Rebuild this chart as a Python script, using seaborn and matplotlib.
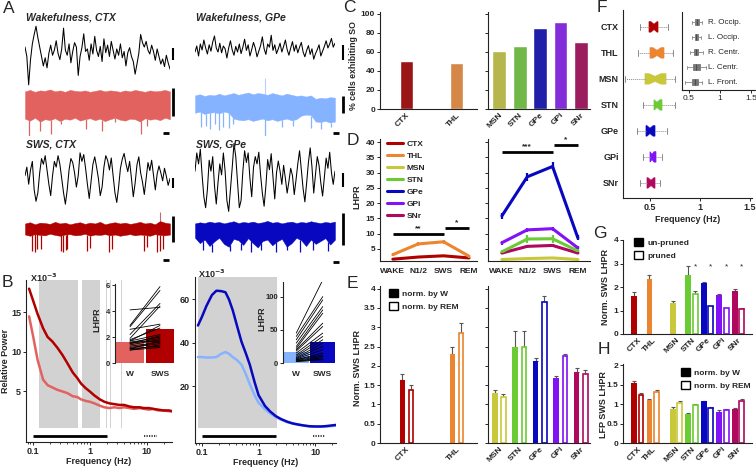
import numpy as np
import pandas as pd
import matplotlib
matplotlib.use('Agg')
import matplotlib.pyplot as plt
import seaborn as sns
from matplotlib.lines import Line2D
from matplotlib.patches import Patch

sns.set_style('ticks')
plt.rcParams['font.family'] = ['Liberation Sans', 'DejaVu Sans']
plt.rcParams['font.weight'] = 'bold'
plt.rcParams['axes.labelweight'] = 'bold'
plt.rcParams['font.size'] = 6
plt.rcParams['axes.linewidth'] = 0.8
plt.rcParams['axes.edgecolor'] = '#222222'
for k in ['xtick', 'ytick']:
    plt.rcParams[k + '.major.size'] = 2
    plt.rcParams[k + '.minor.size'] = 1.2
    plt.rcParams[k + '.major.width'] = 0.7
    plt.rcParams[k + '.labelsize'] = 6
    plt.rcParams[k + '.major.pad'] = 1.5

# ---------------- data ----------------
regions = ['CTX', 'THL', 'MSN', 'STN', 'GPe', 'GPi', 'SNr']
region_colors = {'CTX': '#b00000', 'THL': '#eb8530', 'MSN': '#c8c83a', 'STN': '#6acb35',
                 'GPe': '#0808c0', 'GPi': '#8012f5', 'SNr': '#b0085e'}
ctx_light = '#e2625f'
gpe_light = '#86b3ff'

# A - example traces (LFP in arbitrary units, unit band envelopes 0..1)
wake_ctx_lfp = [6.5, 5.0, 0.5, 4.5, 7.0, 8.5, 9.8, 8.0, 6.5, 5.0, 3.5, 4.8, 3.2, 5.5, 6.8, 5.2, 6.0, 7.5, 5.5, 4.5,
                6.2, 9.5, 6.0, 5.2, 7.0, 4.0, 5.8, 7.2, 6.5, 2.0, 5.0, 6.4, 8.6, 5.8, 6.2, 4.4, 7.0, 5.4, 8.2, 6.0,
                5.0, 6.6, 4.2, 7.8, 5.6, 6.8, 5.0, 7.4, 6.0, 4.6, 6.2, 5.2, 7.0, 4.8, 5.8, 3.5, 5.6, 6.4, 5.0, 4.2,
                2.2, 3.8, 5.5, 8.5, 7.2, 6.5, 7.4, 6.0, 5.4, 6.8, 5.8, 4.4, 6.2, 5.0, 3.8, 4.6, 3.4, 5.2, 4.0, 3.0]
wake_gpe_lfp = [5.0, 6.5, 4.0, 7.0, 5.5, 8.0, 6.0, 4.5, 6.8, 5.2, 7.5, 9.0, 6.0, 5.0, 7.2, 4.8, 6.5, 5.8, 3.5, 6.0,
                7.8, 5.5, 4.2, 6.4, 5.0, 7.0, 4.6, 6.2, 8.2, 5.4, 6.8, 4.0, 5.6, 7.4, 6.0, 3.8, 5.2, 6.6, 8.8, 5.8,
                4.4, 7.0, 6.2, 9.2, 5.4, 6.8, 4.6, 5.8, 7.2, 5.0, 6.4, 8.0, 5.6, 4.2, 6.0, 7.6, 5.2, 6.8, 4.8, 6.2,
                7.4, 5.0, 3.8, 5.4, 6.6, 4.4, 5.8, 3.2, 4.6, 5.6, 6.8, 4.0, 5.2, 6.4, 7.8, 6.0, 7.0, 8.4, 6.2, 7.2]
sws_ctx_lfp = [5.5, 7.0, 4.0, 6.5, 8.0, 3.0, 1.0, 2.5, 6.0, 8.5, 7.5, 9.0, 6.5, 4.0, 2.0, 5.5, 8.0, 7.0, 9.0, 7.5,
               5.0, 2.5, 0.5, 3.0, 6.5, 8.5, 7.8, 6.0, 3.5, 5.5, 9.5, 8.0, 9.2, 6.8, 4.0, 1.5, 4.5, 7.5, 8.8, 7.0,
               5.0, 2.0, 3.5, 7.0, 9.0, 8.2, 6.5, 8.6, 5.5, 2.5, 0.8, 3.5, 6.8, 8.4, 9.4, 7.6, 6.2, 8.0, 5.0, 1.8,
               4.2, 7.4, 8.8, 6.0, 4.4, 2.2, 5.0, 7.8, 6.4, 8.2, 5.6, 3.0, 5.8, 7.2, 6.0, 4.6, 6.8, 5.4, 3.8, 5.0]
sws_gpe_lfp = [6.0, 8.5, 7.0, 9.0, 5.5, 2.5, 1.0, 3.5, 7.5, 6.0, 8.0, 4.0, 1.5, 4.5, 7.0, 5.5, 8.5, 6.0, 2.0, 0.5,
               3.5, 6.5, 9.8, 8.0, 4.5, 1.0, 2.0, 6.0, 8.8, 7.2, 8.5, 5.0, 2.5, 6.5, 8.0, 7.0, 8.6, 5.5, 3.0, 1.2,
               4.0, 7.6, 6.2, 8.4, 5.2, 2.2, 5.8, 7.4, 6.0, 4.2, 6.8, 5.0, 3.0, 4.6, 6.4, 5.4, 2.8, 4.8, 7.0, 8.8,
               6.2, 3.6, 1.8, 4.4, 7.2, 9.2, 6.6, 3.0, 5.6, 8.0, 6.8, 4.4, 2.6, 5.2, 7.8, 6.4, 8.6, 5.8, 4.2, 6.0]

wake_ctx_top = [0.93, 0.96, 0.92, 0.95, 0.94, 0.97, 0.93, 0.95, 0.92, 0.96, 0.94, 0.93, 0.95, 0.92, 0.94,
                0.96, 0.93, 0.95, 0.94, 0.92, 0.95, 0.93, 0.96, 0.94, 0.92, 0.95, 0.93, 0.94, 0.96, 0.93]
wake_ctx_bot = [0.36, 0.32, 0.38, 0.30, 0.35, 0.33, 0.37, 0.31, 0.36, 0.34, 0.38, 0.32, 0.35, 0.37, 0.33,
                0.36, 0.31, 0.35, 0.38, 0.34, 0.32, 0.36, 0.35, 0.30, 0.37, 0.34, 0.36, 0.33, 0.38, 0.35]
wake_ctx_spike_at = [0.03, 0.10, 0.18, 0.25, 0.42, 0.53, 0.62, 0.80, 0.84]
wake_ctx_spike_to = [0.0, 0.10, 0.05, 0.25, 0.15, 0.10, 0.30, 0.05, 0.20]

wake_gpe_top = [0.70, 0.72, 0.69, 0.71, 0.70, 0.73, 0.70, 0.72, 0.74, 0.71, 0.73, 0.75, 0.72, 0.74, 0.73,
                0.71, 0.74, 0.72, 0.70, 0.73, 0.71, 0.69, 0.70, 0.68, 0.70, 0.64, 0.66, 0.65, 0.67, 0.66]
wake_gpe_bot = [0.40, 0.42, 0.38, 0.40, 0.41, 0.39, 0.42, 0.40, 0.30, 0.28, 0.27, 0.29, 0.26, 0.28, 0.30,
                0.27, 0.29, 0.26, 0.28, 0.30, 0.27, 0.29, 0.35, 0.37, 0.36, 0.25, 0.24, 0.26, 0.23, 0.25]
wake_gpe_spike_at = [0.04, 0.08, 0.11, 0.14, 0.17, 0.20, 0.24, 0.27, 0.50, 0.62, 0.70, 0.83, 0.90, 0.97]
wake_gpe_spike_to = [0.15, 0.18, 0.12, 0.20, 0.10, 0.16, 0.14, 0.20, 0.0, 0.15, 0.18, 0.14, 0.12, 0.16]
wake_gpe_up_at = [0.50]
wake_gpe_up_to = [1.0]

sws_ctx_top = [0.72, 0.75, 0.70, 0.74, 0.73, 0.71, 0.76, 0.72, 0.74, 0.70, 0.73, 0.75, 0.71, 0.74, 0.72,
               0.76, 0.70, 0.73, 0.75, 0.72, 0.74, 0.71, 0.73, 0.76, 0.72, 0.74, 0.70, 0.78, 0.74, 0.72]
sws_ctx_bot = [0.45, 0.42, 0.46, 0.44, 0.43, 0.47, 0.44, 0.42, 0.45, 0.46, 0.43, 0.44, 0.47, 0.42, 0.45,
               0.44, 0.46, 0.43, 0.45, 0.42, 0.44, 0.46, 0.43, 0.45, 0.44, 0.42, 0.46, 0.44, 0.43, 0.45]
sws_ctx_spike_at = [0.05, 0.07, 0.08, 0.11, 0.25, 0.26, 0.28, 0.29, 0.43, 0.45, 0.58, 0.60, 0.82, 0.84,
                    0.91, 0.93, 0.95]
sws_ctx_spike_to = [0.05, 0.02, 0.10, 0.10, 0.05, 0.02, 0.08, 0.10, 0.05, 0.12, 0.02, 0.10, 0.05, 0.15,
                    0.02, 0.05, 0.10]
sws_ctx_up_at = [0.93]
sws_ctx_up_to = [1.0]

sws_gpe_top = [0.85, 0.88, 0.86, 0.90, 0.87, 0.89, 0.85, 0.88, 0.91, 0.86, 0.89, 0.87, 0.90, 0.86, 0.88,
               0.92, 0.87, 0.89, 0.85, 0.88, 0.90, 0.86, 0.89, 0.87, 0.91, 0.88, 0.86, 0.89, 0.87, 0.90]
sws_gpe_bot = [0.45, 0.30, 0.40, 0.22, 0.35, 0.45, 0.28, 0.20, 0.42, 0.38, 0.25, 0.44, 0.30, 0.18, 0.36,
               0.40, 0.24, 0.35, 0.42, 0.20, 0.30, 0.45, 0.38, 0.22, 0.40, 0.28, 0.36, 0.44, 0.26, 0.40]
sws_gpe_spike_at = [0.06, 0.12, 0.25, 0.33, 0.40, 0.47, 0.58, 0.66, 0.75, 0.84, 0.95]
sws_gpe_spike_to = [0.10, 0.05, 0.08, 0.12, 0.05, 0.10, 0.06, 0.10, 0.05, 0.12, 0.08]

# B - power spectra (x1e-3) and LHPR insets
b_freq_ctx = [0.085, 0.1, 0.12, 0.15, 0.18, 0.22, 0.27, 0.33, 0.4, 0.5, 0.6, 0.7, 0.85, 1.0, 1.2, 1.5,
              1.8, 2.2, 2.7, 3.3, 4, 5, 6, 7.5, 9, 11, 13, 16, 20, 25, 28]
ctx_wake_power = [14.5, 12.0, 9.0, 6.5, 5.8, 5.5, 5.2, 5.0, 4.8, 4.4, 4.3, 4.0, 3.8, 3.7, 3.5, 3.2,
                  3.0, 2.9, 3.0, 2.9, 3.0, 2.9, 2.8, 2.9, 2.8, 2.7, 2.8, 2.6, 2.6, 2.5, 2.5]
ctx_sws_power = [18.0, 16.5, 14.8, 13.0, 11.9, 11.3, 10.5, 9.6, 8.6, 7.4, 6.7, 6.0, 5.4, 5.0, 4.5, 4.0,
                 3.7, 3.5, 3.4, 3.3, 3.3, 3.1, 3.0, 3.0, 2.9, 2.9, 2.8, 2.7, 2.6, 2.6, 2.5]
ctx_band_lo = [0.128, 0.74, 1.93, 2.28, 3.6]
ctx_band_hi = [0.626, 1.53, 1.99, 2.34, 3.7]
ctx_sig_span = [0.1, 1.97]
ctx_dot_span = [8.9, 15.0]

b_freq_gpe = [0.085, 0.1, 0.12, 0.15, 0.18, 0.22, 0.26, 0.3, 0.35, 0.42, 0.5, 0.6, 0.7, 0.85, 1.0,
              1.3, 1.6, 2.0, 2.5, 3.2, 4, 5, 6.5, 8, 10, 13, 16, 20, 23]
gpe_wake_power = [33.5, 33.5, 33.3, 33.3, 33.5, 35.0, 35.8, 35.0, 33.5, 32.0, 30.0, 25.5, 21.0, 16.0, 12.5,
                  9.5, 7.6, 6.0, 4.7, 3.6, 2.9, 2.4, 1.9, 1.6, 1.5, 1.5, 1.6, 1.8, 2.0]
gpe_sws_power = [48.0, 52.0, 57.0, 62.0, 64.0, 63.8, 63.3, 60.0, 55.0, 47.5, 40.5, 35.0, 30.0, 22.0, 16.0,
                 11.0, 8.5, 6.4, 5.0, 3.8, 3.0, 2.5, 2.0, 1.7, 1.6, 1.6, 1.8, 2.1, 2.3]
gpe_band_lo = [0.085]
gpe_band_hi = [2.1]
gpe_sig_span = [0.1, 2.07]
gpe_dot_span = [9.1, 15.0]

ctx_lhpr_w = [4.1, 2.9, 2.8, 2.6, 2.2, 1.9, 1.8, 1.7, 1.7, 1.6, 1.6, 1.5, 1.5, 1.4, 1.3, 1.2, 1.1, 1.1, 1.0, 1.0]
ctx_lhpr_sws = [4.3, 5.9, 5.6, 3.0, 4.6, 4.4, 2.7, 2.9, 2.2, 2.0, 1.7, 1.9, 2.1, 1.8, 1.6, 1.5, 1.7, 1.3, 1.4, 1.2]
ctx_lhpr_mean = [1.6, 2.6]
gpe_lhpr_w = [45, 40, 35, 30, 25, 22, 20, 18, 15, 12, 10, 8, 7, 6, 5, 5, 4, 3, 3, 2]
gpe_lhpr_sws = [125, 100, 95, 85, 80, 75, 60, 55, 45, 40, 35, 30, 25, 20, 15, 12, 10, 8, 6, 5]
gpe_lhpr_mean = [16, 32]

# C - % cells exhibiting slow oscillations
c_left = ['CTX', 'THL']
c_left_pct = [51, 48]
c_right = ['MSN', 'STN', 'GPe', 'GPi', 'SNr']
c_right_pct = [61, 66, 85, 91, 70]

# D - LHPR across states
states = ['WAKE', 'N1/2', 'SWS', 'REM']
lhpr_ctx = [1.6, 2.3, 2.7, 2.0]
lhpr_thl = [3.1, 6.6, 7.3, 2.6]
lhpr_msn = [1.5, 1.8, 2.0, 1.5]
lhpr_stn = [4.0, 8.2, 8.3, 4.3]
lhpr_gpe = [15.8, 28.6, 32.0, 8.6]
lhpr_gpi = [7.0, 11.2, 11.6, 5.3]
lhpr_snr = [3.6, 5.8, 6.1, 3.6]
sem_ctx = [0.3, 0.3, 0.3, 0.3]
sem_thl = [0.5, 0.6, 0.7, 0.5]
sem_msn = [0.2, 0.2, 0.2, 0.2]
sem_stn = [0.5, 1.3, 1.3, 0.5]
sem_gpe = [1.0, 1.3, 1.3, 0.8]
sem_gpi = [0.6, 0.7, 0.7, 0.5]
sem_snr = [0.4, 0.6, 0.6, 0.4]
d_left_sig = [('**', 0, 2, 9.9), ('*', 2.05, 3, 11.9)]
d_right_sig = [('***', 0, 2, 36.6), ('*', 2.05, 3, 38.9)]

# E - normalized SWS LHPR (units)
e_norm_w = [1.63, 2.30, 1.30, 2.50, 2.13, 1.68, 1.85]
e_norm_w_err = [0.17, 0.20, 0.08, 0.40, 0.08, 0.05, 0.10]
e_norm_rem = [1.37, 2.85, 1.20, 2.50, 3.65, 2.25, 1.80]
e_norm_rem_err = [0.13, 0.25, 0.08, 0.40, 0.15, 0.06, 0.08]

# F - slow-oscillation frequency
f_whislo = [0.40, 0.38, 0.25, 0.43, 0.37, 0.43, 0.40]
f_q1 = [0.49, 0.50, 0.45, 0.54, 0.46, 0.50, 0.47]
f_med = [0.54, 0.57, 0.55, 0.57, 0.50, 0.52, 0.51]
f_q3 = [0.58, 0.64, 0.66, 0.62, 0.55, 0.56, 0.55]
f_whishi = [0.68, 0.73, 0.75, 0.75, 0.67, 0.62, 0.60]
f_notch = [0.03, 0.04, 0.06, 0.03, 0.03, 0.02, 0.03]
eeg_sites = ['R. Occip.', 'L. Occip.', 'R. Centr.', 'L. Centr.', 'L. Front.']
eeg_whislo = [0.55, 0.55, 0.52, 0.46, 0.44]
eeg_q1 = [0.60, 0.60, 0.58, 0.57, 0.55]
eeg_med = [0.63, 0.62, 0.61, 0.62, 0.59]
eeg_q3 = [0.66, 0.64, 0.65, 0.67, 0.64]
eeg_whishi = [0.71, 0.69, 0.72, 0.78, 0.71]

# G - pruned vs un-pruned
g_unpruned = [1.63, 2.32, 1.32, 2.52, 2.15, 1.68, 1.85]
g_unpruned_err = [0.15, 0.17, 0.08, 0.38, 0.06, 0.04, 0.08]
g_pruned = [np.nan, np.nan, np.nan, 1.72, 1.18, 1.10, 1.08]
g_pruned_err = [0, 0, 0, 0.12, 0.03, 0.02, 0.02]
g_sig = ['', '', '', '*', '*', '*', '*']

# H - LFP SWS LHPR
h_norm_w = [1.53, 1.10, 0.88, 0.74, 1.07, 0.80, 0.88]
h_norm_w_err = [0.07, 0.03, 0.05, 0.03, 0.02, 0.04, 0.03]
h_norm_rem = [1.23, 1.32, 1.04, 0.97, 0.90, 0.84, 1.08]
h_norm_rem_err = [0.06, 0.05, 0.05, 0.04, 0.02, 0.04, 0.05]

# ---------------- layout helpers ----------------
W, H = 756, 471
fig = plt.figure(figsize=(W / 100, H / 100), dpi=100)


def add_ax(x0, y0, x1, y1):
    return fig.add_axes([x0 / W, 1 - y1 / H, (x1 - x0) / W, (y1 - y0) / H])


def ftext(x, y, s, **kw):
    fig.text(x / W, 1 - y / H, s, **kw)


def fline(x0, y0, x1, y1, lw=1.5):
    fig.add_artist(Line2D([x0 / W, x1 / W], [1 - y0 / H, 1 - y1 / H], lw=lw, color='black',
                          transform=fig.transFigure, solid_capstyle='butt'))


def letter(x, y, s):
    ftext(x, y, s, fontsize=12.5, fontweight='normal', va='top', ha='left')


def clean(ax, bottom=True):
    sns.despine(ax=ax, bottom=not bottom)


def err_up(ax, x, y, e):
    ax.errorbar(x, y, yerr=[[0] * len(e), e], fmt='none', ecolor='#555555', elinewidth=0.8,
                capsize=1.3, capthick=0.8, zorder=1)


# ---------------- A ----------------
def lfp_trace(box, values, ylim):
    ax = add_ax(*box)
    sns.lineplot(x=np.arange(len(values)), y=values, ax=ax, color='black', lw=0.75)
    ax.set_xlim(0, len(values) - 1)
    ax.set_ylim(*ylim)
    ax.axis('off')


def unit_trace(box, top, bot, sp_at, sp_to, color, up_at=(), up_to=()):
    ax = add_ax(*box)
    xs = np.linspace(0, 1, len(top))
    ax.fill_between(xs, bot, top, color=color, lw=0.3, edgecolor=color)
    ax.vlines(sp_at, sp_to, np.interp(sp_at, xs, bot), color=color, lw=0.9)
    if len(up_at):
        ax.vlines(up_at, np.interp(up_at, xs, top), up_to, color=color, lw=0.8, alpha=0.6)
    ax.set_xlim(0, 1)
    ax.set_ylim(0, 1)
    ax.axis('off')


letter(3, 1, 'A')
title_kw = dict(fontsize=7.5, fontstyle='italic', fontweight='bold', va='center')
ftext(26, 17, 'Wakefulness, CTX', **title_kw)
ftext(196, 17, 'Wakefulness, GPe', **title_kw)
ftext(26, 145, 'SWS, CTX', **title_kw)
ftext(196, 145, 'SWS, GPe', **title_kw)

lfp_trace((25, 25, 170, 88), wake_ctx_lfp, (0, 10))
unit_trace((25, 88, 170, 136), wake_ctx_top, wake_ctx_bot, wake_ctx_spike_at, wake_ctx_spike_to, ctx_light)
lfp_trace((25, 150, 170, 207), sws_ctx_lfp, (0, 10))
unit_trace((25, 212, 170, 253), sws_ctx_top, sws_ctx_bot, sws_ctx_spike_at, sws_ctx_spike_to,
           region_colors['CTX'], sws_ctx_up_at, sws_ctx_up_to)
lfp_trace((195, 32, 335, 72), wake_gpe_lfp, (0, 10))
unit_trace((195, 78, 335, 136), wake_gpe_top, wake_gpe_bot, wake_gpe_spike_at, wake_gpe_spike_to, gpe_light,
           wake_gpe_up_at, wake_gpe_up_to)
lfp_trace((195, 142, 335, 215), sws_gpe_lfp, (0, 10))
unit_trace((195, 218, 335, 254), sws_gpe_top, sws_gpe_bot, sws_gpe_spike_at, sws_gpe_spike_to,
           region_colors['GPe'])

# scale bars
fline(173, 48, 173, 60, 1.5)
fline(173, 88, 173, 116, 2.0)
fline(163, 133, 169, 133, 2.0)
fline(173, 178, 173, 188, 1.5)
fline(173, 216, 173, 242, 2.0)
fline(163, 260, 169, 260, 2.0)
fline(343, 45, 343, 60, 1.5)
fline(343, 96, 343, 113, 2.0)
fline(333, 133, 339, 133, 2.0)
fline(343, 173, 343, 187, 1.5)
fline(343, 213, 343, 245, 2.0)
fline(333, 262, 339, 262, 2.0)

# ---------------- B ----------------
letter(2, 275, 'B')


def spectrum_axes(box, freq, p_wake, p_sws, c_wake, c_sws, lo, hi, sig, dots, ylim, yticks, band_ymin):
    ax = add_ax(*box)
    for a, b in zip(lo, hi):
        ax.axvspan(a, b, ymin=band_ymin, ymax=1, color='#d2d2d2', lw=0, zorder=0)
    sns.lineplot(x=freq, y=p_wake, ax=ax, color=c_wake, lw=1.8, zorder=2)
    sns.lineplot(x=freq, y=p_sws, ax=ax, color=c_sws, lw=1.8, zorder=3)
    ax.set_xscale('log')
    ax.set_ylim(*ylim)
    ybar = ylim[0] * 0.45
    ax.plot(sig, [ybar, ybar], color='black', lw=2, solid_capstyle='butt')
    ax.plot(dots, [ybar, ybar], color='#444444', lw=1.5, ls=(0, (0.6, 0.6)))
    ax.set_xticks([0.1, 1, 10], ['0.1', '1', '10'])
    ax.set_yticks(yticks, [str(t) for t in yticks])
    ax.set_xlabel('Frequency (Hz)', fontsize=6.5, labelpad=1)
    ax.set_ylabel('')
    ax.tick_params(labelsize=6.5)
    clean(ax)
    return ax


ax_b1 = spectrum_axes((26, 280, 172, 442), b_freq_ctx, ctx_wake_power, ctx_sws_power, ctx_light,
                      region_colors['CTX'], ctx_band_lo, ctx_band_hi, ctx_sig_span, ctx_dot_span,
                      (-1.39, 19.1), [5, 10, 15], 0.087)
ax_b1.set_xlim(0.075, 28)
ax_b1.set_ylabel('Relative Power', fontsize=6.5)
ax_b1.yaxis.set_label_coords(-0.107, 0.5)
ftext(30, 278, r'X10$^{\mathbf{-3}}$', fontsize=6.5, va='center')

ax_b2 = spectrum_axes((195, 277, 336, 443), b_freq_gpe, gpe_wake_power, gpe_sws_power, gpe_light,
                      region_colors['GPe'], gpe_band_lo, gpe_band_hi, gpe_sig_span, gpe_dot_span,
                      (-6.0, 70.3), [20, 40, 60], 0.09)
ax_b2.set_xlim(0.0754, 23.3)
ftext(198, 274, r'X10$^{\mathbf{-3}}$', fontsize=6.5, va='center')


def lhpr_inset(box, w, s, means, c_w, c_s, ylim, yticks, lab_x):
    ax = add_ax(*box)
    ax.bar([0, 1], means, width=0.96, color=[c_w, c_s], lw=0, zorder=1)
    for a, b in zip(w, s):
        ax.plot([0, 1], [a, b], color='black', lw=0.6, zorder=2)
    ax.set_xlim(-0.5, 1.5)
    ax.set_ylim(*ylim)
    ax.set_yticks(yticks, [str(t) for t in yticks])
    ax.set_xticks([0, 1], ['W', 'SWS'])
    ax.tick_params(axis='x', length=0, pad=6, labelsize=6)
    ax.tick_params(axis='y', labelsize=5.5)
    ax.set_ylabel('LHPR', fontsize=6.5)
    ax.yaxis.set_label_coords(lab_x, 0.55)
    sns.despine(ax=ax, bottom=True)
    ax.patch.set_alpha(0)


lhpr_inset((115, 284, 175, 363), ctx_lhpr_w, ctx_lhpr_sws, ctx_lhpr_mean, ctx_light, region_colors['CTX'],
           (0, 6.1), [0, 2, 4, 6], -0.22)
lhpr_inset((283, 282, 336, 363), gpe_lhpr_w, gpe_lhpr_sws, gpe_lhpr_mean, gpe_light, region_colors['GPe'],
           (0, 122), [0, 50, 100], -0.32)

# ---------------- C / D / E ----------------
LEFT = (380, 477)
RIGHT = (488, 590)
left_xlim = (-0.53, 1.41)
right_xlim = (-0.54, 4.44)

letter(343, 0, 'C')
ax_c1 = add_ax(LEFT[0], 12, LEFT[1], 109)
ax_c2 = add_ax(RIGHT[0], 12, RIGHT[1], 109)
sns.barplot(x=c_left, y=c_left_pct, hue=c_left, palette=region_colors, legend=False, width=0.25, ax=ax_c1)
sns.barplot(x=c_right, y=c_right_pct, hue=c_right, palette=region_colors, legend=False, width=0.68, ax=ax_c2)
for ax, xl in [(ax_c1, left_xlim), (ax_c2, right_xlim)]:
    ax.set_xlim(*xl)
    ax.set_ylim(0, 102)
    ax.set_yticks(range(0, 101, 20))
    ax.tick_params(axis='x', length=0, pad=2)
    plt.setp(ax.get_xticklabels(), rotation=45, ha='right', rotation_mode='anchor')
    clean(ax)
ax_c2.tick_params(axis='y', labelleft=False)
ax_c1.set_ylabel('% cells exhibiting SO', fontsize=6.3)
ax_c1.yaxis.set_label_coords(-0.23, 0.45)

letter(347, 133, 'D')
lhpr_all = [lhpr_ctx, lhpr_thl, lhpr_msn, lhpr_stn, lhpr_gpe, lhpr_gpi, lhpr_snr]
sem_all = [sem_ctx, sem_thl, sem_msn, sem_stn, sem_gpe, sem_gpi, sem_snr]
d_df = pd.DataFrame({'region': np.repeat(regions, 4), 'state': np.tile(np.arange(4), 7),
                     'lhpr': np.concatenate(lhpr_all), 'err': np.concatenate(sem_all)})
ax_d1 = add_ax(LEFT[0], 139, LEFT[1], 261)
ax_d2 = add_ax(RIGHT[0], 139, RIGHT[1], 261)
for ax, sub, xl, sig in [(ax_d1, ['CTX', 'THL'], (-0.51, 3.32), d_left_sig),
                         (ax_d2, ['MSN', 'SNr', 'STN', 'GPi', 'GPe'], (-0.55, 3.48), d_right_sig)]:
    part = d_df[d_df['region'].isin(sub)]
    sns.lineplot(data=part, x='state', y='lhpr', hue='region', hue_order=sub, palette=region_colors,
                 lw=2.2, legend=False, ax=ax)
    for r in sub:
        rr = part[part['region'] == r]
        ax.errorbar(rr['state'], rr['lhpr'], yerr=rr['err'], fmt='none', ecolor=region_colors[r],
                    elinewidth=1.6, capsize=0)
    for lab, a, b, y in sig:
        ax.plot([a, b], [y, y], color='black', lw=2, solid_capstyle='butt')
        ax.text((a + b) / 2, y + 0.6, lab, ha='center', va='bottom', fontsize=6)
    ax.set_xlim(*xl)
    ax.set_ylim(1, 41)
    ax.set_yticks(range(5, 41, 5))
    ax.set_xticks(range(4), states)
    ax.set_xlabel('')
    ax.set_ylabel('')
    ax.tick_params(axis='x', length=0, pad=5, labelsize=6)
    clean(ax)
ax_d2.tick_params(axis='y', labelleft=False)
ax_d1.set_ylabel('LHPR', fontsize=6.5)
ax_d1.yaxis.set_label_coords(-0.19, 0.53)
d_handles = [Line2D([], [], color=region_colors[r], lw=2.2) for r in regions]
ax_d1.legend(d_handles, regions, loc='upper left', bbox_to_anchor=(0.04, 1.02), frameon=False, fontsize=6,
             handlelength=1.9, handletextpad=0.4, labelspacing=0.5, borderaxespad=0)

letter(347, 276, 'E')
ax_e1 = add_ax(LEFT[0], 286, LEFT[1], 443)
ax_e2 = add_ax(RIGHT[0], 286, RIGHT[1], 443)


def paired_bars(ax, idx, xs, off, width, v1, e1, v2, e2):
    for k, x in zip(idx, xs):
        c = region_colors[regions[k]]
        ax.bar(x - off, v1[k], width, color=c, lw=0, zorder=2)
        err_up(ax, [x - off], [v1[k]], [e1[k]])
        if not np.isnan(v2[k]):
            ax.bar(x + off, v2[k], width * 0.8, facecolor='white', edgecolor=c, lw=1.2, zorder=2)
            err_up(ax, [x + off], [v2[k]], [e2[k]])


paired_bars(ax_e1, [0, 1], [0, 1], 0.085, 0.11, e_norm_w, e_norm_w_err, e_norm_rem, e_norm_rem_err)
paired_bars(ax_e2, [2, 3, 4, 5, 6], range(5), 0.21, 0.27, e_norm_w, e_norm_w_err, e_norm_rem, e_norm_rem_err)
e_ticks = [0, 0.5, 1, 1.5, 2, 2.5, 3, 3.5, 4]
for ax, xl, labs in [(ax_e1, left_xlim, c_left), (ax_e2, right_xlim, c_right)]:
    ax.set_xlim(*xl)
    ax.set_ylim(0, 4.07)
    ax.set_yticks(e_ticks, ['%g' % t for t in e_ticks])
    ax.set_xticks(range(len(labs)), labs, rotation=45, ha='right', rotation_mode='anchor')
    ax.tick_params(axis='x', length=0, pad=2)
    clean(ax)
ax_e2.tick_params(axis='y', labelleft=False)
ax_e1.set_ylabel('Norm. SWS LHPR', fontsize=6.5)
ax_e1.yaxis.set_label_coords(-0.19, 0.48)
open_kw = dict(facecolor='white', edgecolor='black', lw=1.0)
ax_e1.legend([Patch(color='black'), Patch(**open_kw)], ['norm. by W', 'norm. by REM'], loc='upper left',
             bbox_to_anchor=(0.06, 1.0), frameon=False, fontsize=6, handlelength=1.1, handleheight=1.1,
             handletextpad=0.5, labelspacing=0.5, borderaxespad=0)

# ---------------- F ----------------
letter(597, 0, 'F')
ax_f = add_ax(623, 10, 752, 198)
f_stats = [dict(med=f_med[i], q1=f_q1[i], q3=f_q3[i], whislo=f_whislo[i], whishi=f_whishi[i],
                cilo=f_med[i] - f_notch[i], cihi=f_med[i] + f_notch[i], fliers=[]) for i in range(7)]
bp = ax_f.bxp(f_stats, positions=range(7), widths=0.4, orientation='horizontal', patch_artist=True,
              shownotches=True, showfliers=False,
              whiskerprops=dict(color='#8a8a8a', lw=0.7, ls=(0, (1, 1))),
              capprops=dict(color='#8a8a8a', lw=0.7), medianprops=dict(lw=0))
for patch, r in zip(bp['boxes'], regions):
    patch.set_facecolor(region_colors[r])
    patch.set_edgecolor(region_colors[r])
    patch.set_linewidth(0.5)
ax_f.set_ylim(6.58, -0.65)
ax_f.set_xlim(0.23, 1.52)
ax_f.set_yticks(range(7), regions)
ax_f.set_xticks([0.5, 1, 1.5], ['0.5', '1', '1.5'])
ax_f.tick_params(axis='y', length=0, pad=3, labelsize=6.5)
ax_f.tick_params(axis='x', labelsize=6.5)
ax_f.set_xlabel('Frequency (Hz)', fontsize=6.5, labelpad=2)
clean(ax_f)

ax_fi = add_ax(682, 12, 756, 90)
eeg_stats = [dict(med=eeg_med[i], q1=eeg_q1[i], q3=eeg_q3[i], whislo=eeg_whislo[i], whishi=eeg_whishi[i],
                  fliers=[]) for i in range(5)]
bpi = ax_fi.bxp(eeg_stats, positions=range(5), widths=0.4, orientation='horizontal', patch_artist=True,
                showfliers=False, whiskerprops=dict(color='#888888', lw=0.6),
                capprops=dict(color='#888888', lw=0.6), medianprops=dict(color='#444444', lw=0.6))
for patch in bpi['boxes']:
    patch.set_facecolor('#777777')
    patch.set_edgecolor('#555555')
    patch.set_linewidth(0.4)
for i, s in enumerate(eeg_sites):
    ax_fi.text(0.8, i, s, va='center', ha='left', fontsize=5.8, fontweight='normal')
ax_fi.set_ylim(4.53, -0.67)
ax_fi.set_xlim(0.387, 1.58)
ax_fi.set_yticks([])
ax_fi.set_xticks([0.5, 1, 1.5], ['0.5', '1', '1.5'])
ax_fi.tick_params(axis='x', labelsize=6, pad=1.5)
for t in ax_fi.get_xticklabels():
    t.set_fontweight('normal')
clean(ax_fi)
ax_fi.patch.set_alpha(0)

# ---------------- G / H ----------------
gh_x = np.arange(7) + np.where(np.arange(7) >= 2, 0.5, 0.0)
gh_xlim = (-0.94, 7.39)

letter(593, 226, 'G')
ax_g = add_ax(623, 240, 752, 334)
paired_bars(ax_g, range(7), gh_x, 0.23, 0.38, g_unpruned, g_unpruned_err, g_pruned, g_pruned_err)
for x, s in zip(gh_x, g_sig):
    if s:
        ax_g.text(x + 0.23, 2.7, s, ha='center', va='bottom', fontsize=6, fontweight='normal')
ax_g.set_ylim(0, 4)
ax_g.set_yticks(range(5))
ax_g.legend([Patch(color='black'), Patch(**open_kw)], ['un-pruned', 'pruned'], loc='upper left',
            bbox_to_anchor=(0.06, 1.06), frameon=False, fontsize=6, handlelength=1.1, handleheight=1.1,
            handletextpad=0.5, labelspacing=0.5, borderaxespad=0)
ax_g.set_ylabel('Norm. SWS LHPR', fontsize=6.5)
ax_g.yaxis.set_label_coords(-0.1, 0.5)

letter(598, 342, 'H')
ax_h = add_ax(623, 364, 752, 443)
paired_bars(ax_h, range(7), gh_x, 0.23, 0.38, h_norm_w, h_norm_w_err, h_norm_rem, h_norm_rem_err)
ax_h.set_ylim(0, 2.03)
ax_h.set_yticks([0, 0.5, 1, 1.5, 2], ['0', '0.5', '1', '1.5', '2'])
ax_h.legend([Patch(color='black'), Patch(**open_kw)], ['norm. by W', 'norm. by REM'], loc='upper left',
            bbox_to_anchor=(0.42, 0.99), frameon=False, fontsize=6, handlelength=1.1, handleheight=1.1,
            handletextpad=0.5, labelspacing=0.5, borderaxespad=0)
ax_h.set_ylabel('LFP SWS LHPR', fontsize=6.5)
ax_h.yaxis.set_label_coords(-0.12, 0.49)

for ax in (ax_g, ax_h):
    ax.set_xlim(*gh_xlim)
    ax.set_xticks(gh_x, regions, rotation=45, ha='right', rotation_mode='anchor')
    ax.tick_params(axis='x', length=0, pad=2)
    clean(ax)

fig.savefig('out.png', dpi=100)
